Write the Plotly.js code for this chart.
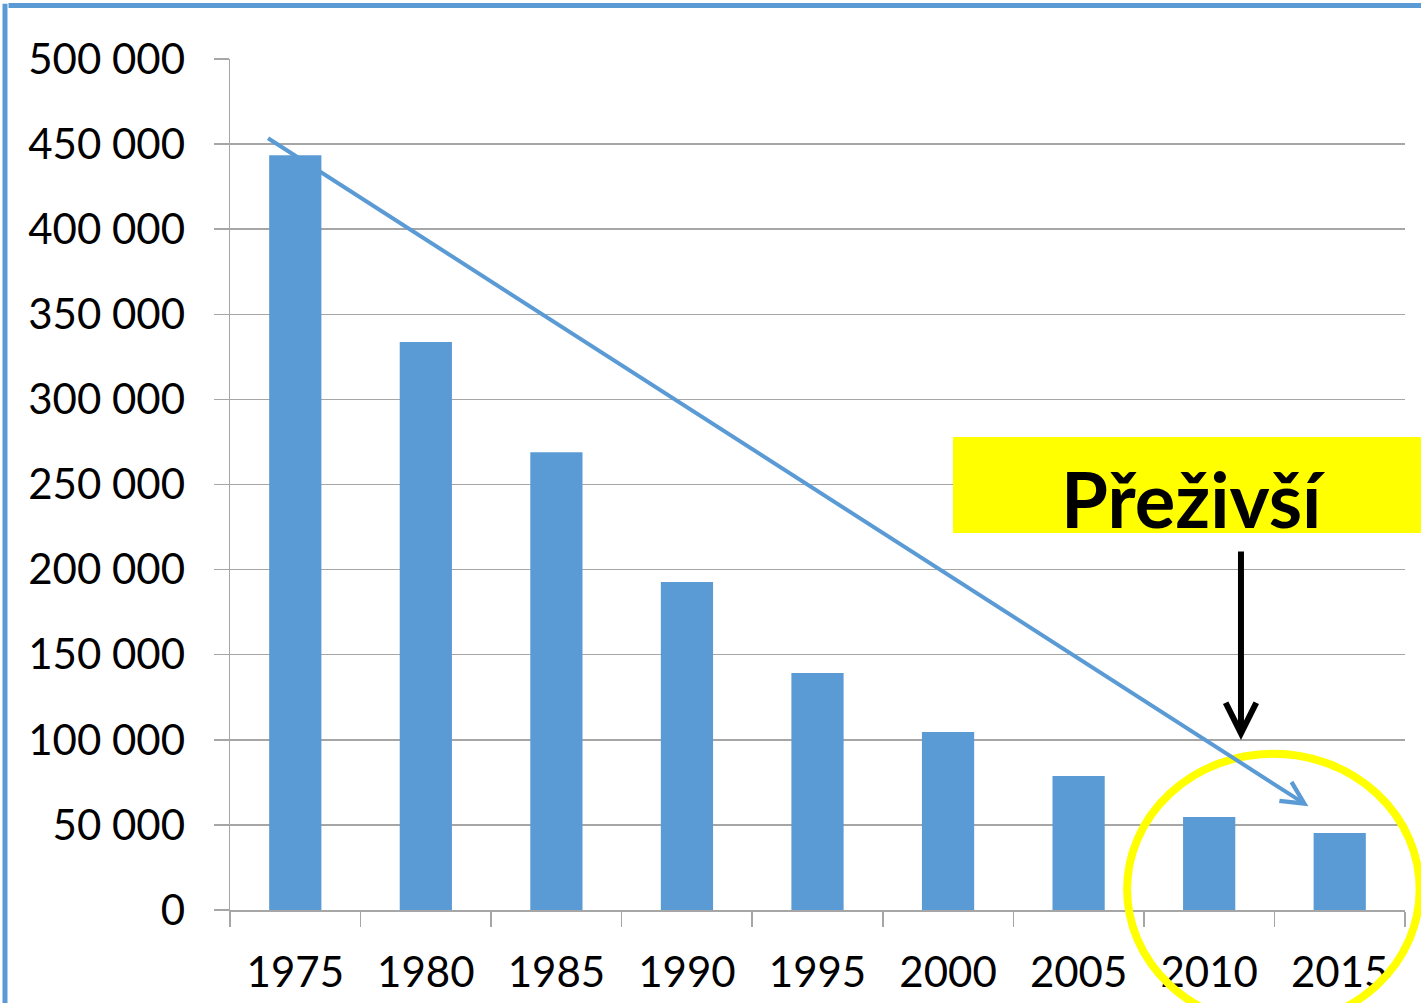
<!DOCTYPE html>
<html>
<head>
<meta charset="utf-8">
<script src="https://cdn.plot.ly/plotly-3.0.1.min.js"></script>
<style>
html,body{margin:0;padding:0;background:#fff;}
#chart{width:1421px;height:1003px;}
</style>
</head>
<body>
<div id="chart"></div>
<script>
const years = ['1975','1980','1985','1990','1995','2000','2005','2010','2015'];
const values = [443500, 333700, 269000, 192700, 139300, 104600, 78700, 54700, 45200];
const yTicks = [0, 50000, 100000, 150000, 200000, 250000, 300000, 350000, 400000, 450000, 500000];
const labelText = 'Přeživší';
// trend arrow endpoints (category index, value)
const trendStart = [-0.22, 454000];
const trendEnd = [7.76, 61000];

const blue = '#5b9bd5';
const grid = '#a6a6a6';

const trace = {
  type: 'bar',
  x: years,
  y: values,
  marker: {color: blue},
  hoverinfo: 'x+y'
};

const layout = {
  width: 1421,
  height: 1003,
  margin: {l: 230, r: 16, t: 59, b: 93, pad: 0},
  paper_bgcolor: '#fff',
  plot_bgcolor: '#fff',
  showlegend: false,
  separators: '. ',
  bargap: 0.6,
  font: {family: 'Lato, "Open Sans", sans-serif', color: '#000', size: 42},
  xaxis: {
    type: 'category',
    showline: true,
    linecolor: grid,
    linewidth: 1.5,
    ticks: 'outside',
    tickson: 'boundaries',
    ticklen: 15,
    tickcolor: grid,
    tickwidth: 1.5,
    showgrid: false,
    tickfont: {size: 42, color: '#000'},
    ticklabelstandoff: 25,
    fixedrange: true
  },
  yaxis: {
    range: [0, 500000],
    tickvals: yTicks,
    tickformat: ',d',
    showline: true,
    linecolor: grid,
    linewidth: 1.5,
    ticks: 'outside',
    ticklen: 15,
    tickcolor: grid,
    tickwidth: 1.5,
    showgrid: true,
    gridcolor: grid,
    gridwidth: 1.5,
    zeroline: false,
    tickfont: {size: 42, color: '#000'},
    ticklabelstandoff: 20,
    fixedrange: true
  },
  shapes: [
    // outer frame (top and left)
    {type: 'line', xref: 'paper', yref: 'paper', x0: -0.1885, x1: 1.05, y0: 1.0629, y1: 1.0629,
     line: {color: blue, width: 5}, layer: 'above'},
    {type: 'line', xref: 'paper', yref: 'paper', x0: -0.1915, x1: -0.1915, y0: 1.065, y1: -0.12,
     line: {color: blue, width: 5}, layer: 'above'},
    // yellow label box
    {type: 'rect', xref: 'paper', yref: 'paper', x0: 0.6153, x1: 1.05, y0: 0.443, y1: 0.5558,
     fillcolor: '#ffff00', line: {width: 0}, layer: 'above'},
    // yellow ellipse
    {type: 'circle', xref: 'paper', yref: 'paper', x0: 0.7635, x1: 1.0125, y0: -0.135, y1: 0.1835,
     line: {color: '#ffff00', width: 8}, layer: 'above'}
  ],
  annotations: [
    {xref: 'paper', yref: 'paper', x: 0.8196, y: 0.484, text: '<b>' + labelText + '</b>',
     showarrow: false, font: {size: 76, color: '#000', family: 'Lato, "Open Sans", sans-serif'},
     xanchor: 'center', yanchor: 'middle'},
    {xref: 'paper', yref: 'paper', x: 0.8604, y: 0.1998, ax: 0, ay: -190, axref: 'pixel', ayref: 'pixel',
     text: '', showarrow: true, arrowhead: 5, arrowsize: 1, arrowwidth: 6, arrowcolor: '#000'},
    {xref: 'x', yref: 'y', x: trendEnd[0], y: trendEnd[1], axref: 'x', ayref: 'y',
     ax: trendStart[0], ay: trendStart[1], text: '', showarrow: true,
     arrowhead: 5, arrowsize: 1.1, arrowwidth: 4, arrowcolor: blue}
  ]
};

Plotly.newPlot('chart', [trace], layout, {displayModeBar: false, staticPlot: true});
</script>
</body>
</html>
